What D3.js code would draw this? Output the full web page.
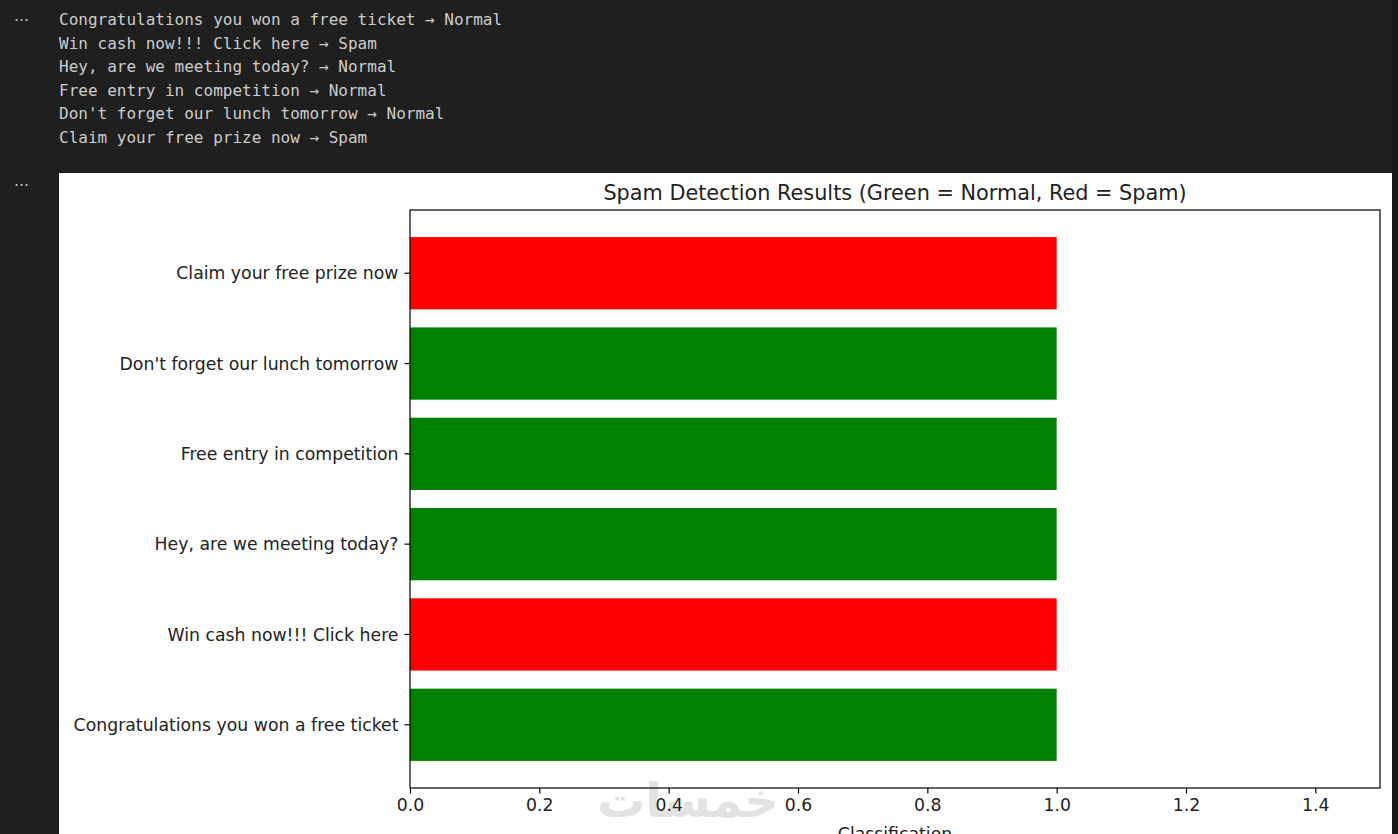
<!DOCTYPE html>
<html>
<head>
<meta charset="utf-8">
<script src="https://cdn.jsdelivr.net/npm/d3@7"></script>
<style>
  html, body { margin: 0; padding: 0; background: #1f1f1f; }
  svg { display: block; }
</style>
</head>
<body>
<svg id="chart" width="1398" height="834"></svg>
<script>
// ---- data ----
const messages = [
  "Congratulations you won a free ticket",
  "Win cash now!!! Click here",
  "Hey, are we meeting today?",
  "Free entry in competition",
  "Don't forget our lunch tomorrow",
  "Claim your free prize now"
];
const predictions = ["Normal", "Spam", "Normal", "Normal", "Normal", "Spam"];
const values = [1, 1, 1, 1, 1, 1];
const xTicks = [0, 0.2, 0.4, 0.6, 0.8, 1.0, 1.2, 1.4];
const xDomain = [0, 1.5];
const title = "Spam Detection Results (Green = Normal, Red = Spam)";
const xLabel = "Classification";
const colorOf = { Normal: "#008000", Spam: "#ff0000" };

const svg = d3.select("#chart");
svg.append("rect").attr("width", 1398).attr("height", 834).attr("fill", "#1f1f1f");
svg.append("rect").attr("x", 1392).attr("y", 0).attr("width", 6).attr("height", 834).attr("fill", "#181818");

// ---- printed output ----
const out = svg.append("g").attr("font-family", "'DejaVu Sans Mono', monospace")
  .attr("font-size", 16).attr("fill", "#cccccc");
messages.forEach((m, i) => {
  out.append("text").attr("x", 59).attr("y", 25 + i * 23.6)
    .text(m + " \u2192 " + predictions[i]);
});
svg.append("text").attr("x", 14).attr("y", 21).attr("font-family", "'DejaVu Sans', sans-serif")
  .attr("font-size", 15).attr("fill", "#cccccc").text("\u2026");
svg.append("text").attr("x", 14).attr("y", 186).attr("font-family", "'DejaVu Sans', sans-serif")
  .attr("font-size", 15).attr("fill", "#cccccc").text("\u2026");

// ---- figure ----
svg.append("rect").attr("x", 59).attr("y", 173).attr("width", 1333).attr("height", 700).attr("fill", "#ffffff");

const L = 410, R = 1380, T = 210, B = 788;
const x = d3.scaleLinear().domain(xDomain).range([L, R]);
const y = d3.scaleBand().domain(messages).range([B, T]).paddingInner(0.2).paddingOuter(0.3);

// watermark
svg.append("text").attr("x", 688).attr("y", 817).attr("text-anchor", "middle")
  .attr("font-family", "'DejaVu Sans', 'Noto Sans', sans-serif").attr("font-size", 48)
  .attr("font-weight", "bold")
  .attr("fill", "#e2e2e2").text("خمسات");

const g = svg.append("g").attr("font-family", "'DejaVu Sans', sans-serif");

g.selectAll("rect.bar").data(messages).enter().append("rect")
  .attr("class", "bar")
  .attr("x", x(0))
  .attr("y", d => y(d))
  .attr("width", (d, i) => x(values[i]) - x(0))
  .attr("height", y.bandwidth())
  .attr("fill", (d, i) => colorOf[predictions[i]]);

// axes
const xAxis = d3.axisBottom(x).tickValues(xTicks).tickFormat(d3.format(".1f")).tickSizeOuter(0).tickSize(5.5).tickPadding(5);
const gx = g.append("g").attr("transform", `translate(0,${B})`).call(xAxis);
gx.select(".domain").remove();
gx.selectAll("line").attr("stroke", "#000").attr("stroke-width", 1.2);
gx.selectAll("text").attr("font-size", 17.3).attr("fill", "#222").attr("font-family", "'DejaVu Sans', sans-serif").attr("dy", "0.72em");

const yAxis = d3.axisLeft(y).tickSizeOuter(0).tickSize(5.5).tickPadding(6);
const gy = g.append("g").attr("transform", `translate(${L},0)`).call(yAxis);
gy.select(".domain").remove();
gy.selectAll("line").attr("stroke", "#000").attr("stroke-width", 1.2);
gy.selectAll("text").attr("font-size", 17.3).attr("fill", "#222").attr("font-family", "'DejaVu Sans', sans-serif").attr("dy", "0.36em");

// frame
g.append("rect").attr("x", L).attr("y", T).attr("width", R - L).attr("height", B - T)
  .attr("fill", "none").attr("stroke", "#000").attr("stroke-width", 1.2);

// title & label
g.append("text").attr("x", (L + R) / 2).attr("y", 200).attr("text-anchor", "middle")
  .attr("font-size", 20.8).attr("fill", "#222").text(title);
g.append("text").attr("x", (L + R) / 2).attr("y", 840).attr("text-anchor", "middle")
  .attr("font-size", 17.3).attr("fill", "#222").text(xLabel);
</script>
</body>
</html>
